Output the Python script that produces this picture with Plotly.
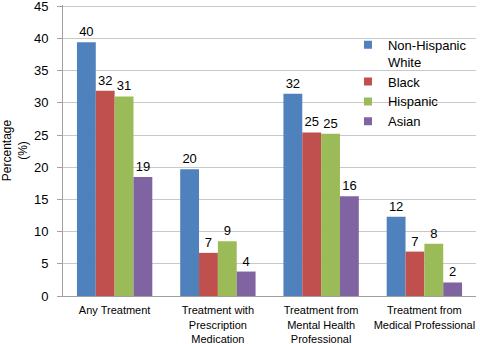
import plotly.graph_objects as go

categories = ["Any Treatment",
              "Treatment with<br>Prescription<br>Medication",
              "Treatment from<br>Mental Health<br>Professional",
              "Treatment from<br>Medical Professional"]
series_names = ["Non-Hispanic<br>White", "Black", "Hispanic", "Asian"]
white = [39.4, 19.7, 31.4, 12.3]
black = [31.9, 6.7, 25.4, 6.9]
hispanic = [31.0, 8.5, 25.2, 8.1]
asian = [18.5, 3.8, 15.5, 2.1]
white_lbl = ["40", "20", "32", "12"]
black_lbl = ["32", "7", "25", "7"]
hispanic_lbl = ["31", "9", "25", "8"]
asian_lbl = ["19", "4", "16", "2"]
y_ticks = [0, 5, 10, 15, 20, 25, 30, 35, 40, 45]
colors = ["#4F81BD", "#C0504D", "#9BBB59", "#8064A2"]

font = "Liberation Sans, Arial, sans-serif"
fig = go.Figure()
for name, vals, lbls, c in zip(series_names, [white, black, hispanic, asian],
                               [white_lbl, black_lbl, hispanic_lbl, asian_lbl], colors):
    fig.add_trace(go.Bar(x=categories, y=vals, text=lbls, textposition="outside",
                         marker=dict(color=c, line=dict(width=0)), showlegend=False,
                         textfont=dict(size=13, color="#000000"), cliponaxis=False,
                         hoverinfo="skip"))
for name, c in zip(series_names, colors):
    fig.add_trace(go.Scatter(x=[None], y=[None], mode="markers", name=name,
                             marker=dict(symbol="square", size=8, color=c)))

fig.update_layout(
    width=480, height=344,
    margin=dict(l=63, r=4, t=5, b=48),
    paper_bgcolor="white", plot_bgcolor="white",
    font=dict(family=font, size=13, color="#000000"),
    barmode="group", bargap=0.27, bargroupgap=0,
    legend=dict(x=0.69, y=0.915, xanchor="left", yanchor="top",
                bgcolor="rgba(0,0,0,0)", font=dict(size=13),
                valign="top", tracegroupgap=0, itemwidth=30),
    xaxis=dict(showline=True, linecolor="#A0A0A0", linewidth=1,
               tickfont=dict(size=11), ticks="", fixedrange=True,
               ticklabelstandoff=4, automargin=False),
    yaxis=dict(range=[0, 45.2], tickmode="array", tickvals=y_ticks,
               showgrid=True, gridcolor="#C8C8C8",
               showline=True, linecolor="#A0A0A0", linewidth=1,
               ticks="outside", ticklen=5, tickcolor="#A0A0A0",
               tickfont=dict(size=13), ticklabelstandoff=6,
               ticklabeloverflow="allow",
               title=dict(text="Percentage<br>(%)", font=dict(size=12), standoff=8),
               zeroline=False, automargin=False),
)
fig.write_html("out.html", config={"displayModeBar": False},
               post_script="document.body.style.margin='0';")
